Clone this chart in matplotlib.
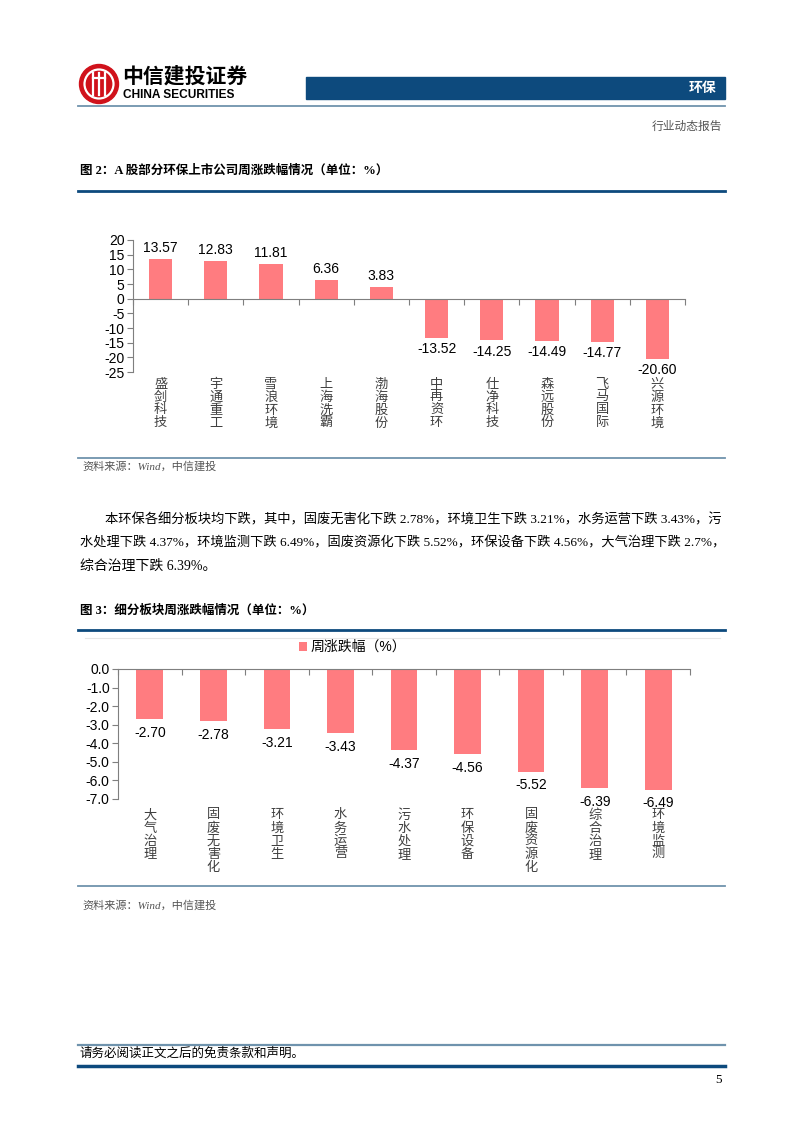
import matplotlib
matplotlib.use('Agg')
import matplotlib.pyplot as plt
import matplotlib.transforms as mtransforms
from matplotlib.patches import Circle, Rectangle
import numpy as np

plt.rcParams['font.family'] = ['Liberation Sans', 'Noto Sans CJK SC']

# chart 2 data: A股部分环保上市公司周涨跌幅
stocks = ['盛剑科技', '宇通重工', '雪浪环境', '上海洗霸', '渤海股份',
          '中再资环', '仕净科技', '森远股份', '飞马国际', '兴源环境']
stock_chg = [13.57, 12.83, 11.81, 6.36, 3.83, -13.52, -14.25, -14.49, -14.77, -20.60]
stock_ticks = [20, 15, 10, 5, 0, -5, -10, -15, -20, -25]

# chart 3 data: 细分板块周涨跌幅
sectors = ['大气治理', '固废无害化', '环境卫生', '水务运营', '污水处理',
           '环保设备', '固废资源化', '综合治理', '环境监测']
sector_chg = [-2.70, -2.78, -3.21, -3.43, -4.37, -4.56, -5.52, -6.39, -6.49]
sector_ticks = [0.0, -1.0, -2.0, -3.0, -4.0, -5.0, -6.0, -7.0]

para = ['本环保各细分板块均下跌，其中，固废无害化下跌 2.78%，环境卫生下跌 3.21%，水务运营下跌 3.43%，污',
        '水处理下跌 4.37%，环境监测下跌 6.49%，固废资源化下跌 5.52%，环保设备下跌 4.56%，大气治理下跌 2.7%，',
        '综合治理下跌 6.39%。']

W, H = 802, 1133
bar_color = '#FF7C80'
navy = '#0d4a7d'
steel = '#6f93ad'
serif = ['Liberation Serif', 'Noto Sans CJK SC']

fig = plt.figure(figsize=(W / 100, H / 100), dpi=100)
page = fig.add_axes([0, 0, 1, 1])
page.set_xlim(0, W)
page.set_ylim(H, 0)
page.axis('off')


def box(x0, y0, x1, y1):
    return [x0 / W, 1 - y1 / H, (x1 - x0) / W, (y1 - y0) / H]


# header / logo
page.add_patch(Circle((99, 84), 19.5, color='#d0121b'))
page.add_patch(Circle((99, 84), 14.5, fill=False, ec='white', lw=1.6))
for dx in [-6, 0, 6]:
    page.plot([99 + dx, 99 + dx], [73, 95], color='white', lw=1.6)
page.plot([93, 105], [78, 78], color='white', lw=1.6)
page.text(122, 76, '中信建投证券', fontsize=15, fontweight='bold', va='center')
page.text(123, 95, 'CHINA SECURITIES', fontsize=8.6, fontweight='bold', va='center')
page.add_patch(Rectangle((306, 77), 419, 22, color=navy))
page.text(716, 88, '环保', color='white', fontsize=10, fontweight='bold', ha='right', va='center')
page.plot([78, 725], [106, 106], color=steel, lw=1.3)
page.text(722, 127, '行业动态报告', color='#555555', fontsize=8.5, ha='right', va='center')

# chart 2 frame
page.text(80, 171, '图 2：A 股部分环保上市公司周涨跌幅情况（单位：%）', family=serif,
          fontsize=9, fontweight='bold', va='center')
page.plot([78, 725], [191, 191], color=navy, lw=2)
page.plot([78, 725], [458, 458], color=steel, lw=1.3)
page.text(82, 466, '资料来源：Wind，中信建投', family=serif, style='italic',
          color='#555555', fontsize=8, va='center')

# paragraph
lines = []
lines.append(page.text(105, 520, para[0], family=serif, fontsize=10, va='center'))
lines.append(page.text(80, 543, para[1], family=serif, fontsize=10, va='center'))
page.text(80, 566, para[2], family=serif, fontsize=10, va='center')

# chart 3 frame
page.text(80, 611, '图 3：细分板块周涨跌幅情况（单位：%）', family=serif,
          fontsize=9, fontweight='bold', va='center')
page.plot([78, 725], [630, 630], color=navy, lw=2)
page.plot([85, 720], [638, 638], color='#e6e6e6', lw=0.8)
page.plot([78, 725], [886, 886], color=steel, lw=1.3)
page.text(82, 905, '资料来源：Wind，中信建投', family=serif, style='italic',
          color='#555555', fontsize=8, va='center')

# footer
page.plot([78, 725], [1045, 1045], color=steel, lw=1.6)
page.text(80, 1054, '请务必阅读正文之后的免责条款和声明。', family=serif, fontsize=9, va='center')
page.plot([78, 725], [1066, 1066], color=navy, lw=2.5)
page.text(722, 1080, '5', family=serif, fontsize=9.5, ha='right', va='center')

axis_col = '#7f7f7f'

# ---- chart 2
ax1 = fig.add_axes(box(133, 240, 685, 372))
x1 = np.arange(len(stocks))
ax1.bar(x1, stock_chg, width=0.42, color=bar_color, zorder=2)
ax1.set_xlim(-0.5, len(stocks) - 0.5)
ax1.set_ylim(-25, 20)
ax1.set_yticks(stock_ticks)
ax1.set_yticklabels([str(t) for t in stock_ticks])
ax1.spines[['top', 'right']].set_visible(False)
ax1.spines['bottom'].set_position(('data', 0))
ax1.spines['bottom'].set_color(axis_col)
ax1.spines['left'].set_color(axis_col)
ax1.set_xticks(np.arange(len(stocks) + 1) - 0.5)
ax1.set_xticklabels([])
ax1.tick_params(axis='x', direction='out', length=4, color=axis_col)
ax1.tick_params(axis='y', direction='out', length=4, color=axis_col, labelsize=10, pad=2)
ax1.patch.set_alpha(0)
tr1 = mtransforms.blended_transform_factory(ax1.transData, ax1.transAxes)
for i, (name, v) in enumerate(zip(stocks, stock_chg)):
    ax1.annotate(f'{v:.2f}', (i, v), xytext=(0, 3 if v > 0 else -3), textcoords='offset points',
                 ha='center', va='bottom' if v > 0 else 'top', fontsize=10)
    ax1.text(i, -0.05, '\n'.join(name), transform=tr1, ha='center', va='top',
             fontsize=9.5, linespacing=1.08, color='#404040')

# ---- chart 3
ax2 = fig.add_axes(box(118, 669, 690, 799))
x2 = np.arange(len(sectors))
ax2.bar(x2, sector_chg, width=0.42, color=bar_color, zorder=2, label='周涨跌幅（%）')
ax2.set_xlim(-0.5, len(sectors) - 0.5)
ax2.set_ylim(-7, 0)
ax2.set_yticks(sector_ticks)
ax2.set_yticklabels([f'{t:.1f}' for t in sector_ticks])
ax2.spines[['bottom', 'right']].set_visible(False)
ax2.spines['top'].set_color(axis_col)
ax2.spines['left'].set_color(axis_col)
ax2.xaxis.tick_top()
ax2.set_xticks(np.arange(len(sectors) + 1) - 0.5)
ax2.set_xticklabels([])
ax2.tick_params(axis='x', direction='in', length=4, color=axis_col)
ax2.tick_params(axis='y', direction='out', length=4, color=axis_col, labelsize=10, pad=2)
ax2.patch.set_alpha(0)
tr2 = mtransforms.blended_transform_factory(ax2.transData, ax2.transAxes)
for i, (name, v) in enumerate(zip(sectors, sector_chg)):
    ax2.annotate(f'{v:.2f}', (i, v), xytext=(0, -5), textcoords='offset points',
                 ha='center', va='top', fontsize=10)
    ax2.text(i, -0.08, '\n'.join(name), transform=tr2, ha='center', va='top',
             fontsize=9.5, linespacing=1.08, color='#404040')
ax2.legend(loc='center left', bbox_to_anchor=(286 / W, 1 - 647 / H), bbox_transform=fig.transFigure,
           frameon=False, handlelength=0.6, handleheight=0.6, handletextpad=0.3, fontsize=10)

# justify the two full paragraph lines
fig.canvas.draw()
r = fig.canvas.get_renderer()
for t, x0 in zip(lines, [105, 80]):
    w = t.get_window_extent(r).width
    t.set_fontsize(t.get_fontsize() * (722 - x0) / w)

fig.savefig('out.png', dpi=100)
